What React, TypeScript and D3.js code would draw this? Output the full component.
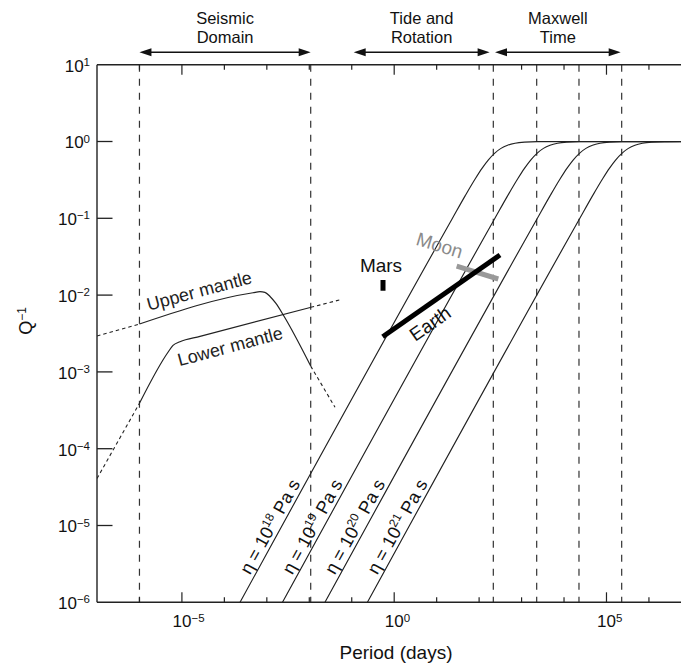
import React from 'react';
import * as d3 from 'd3';

const W = 681;
const H = 670;

// ---- axes ----
const xDomain = [1e-7, 1e7];
const yDomain = [1e-6, 1e1];
const xTickExponents = [-6, -5, -4, -3, -2, -1, 0, 1, 2, 3, 4, 5, 6];
const xLabelExponents = [-5, 0, 5];
const yTickExponents = [1, 0, -1, -2, -3, -4, -5, -6];

// ---- dashed boundaries (period, days) ----
const boundaryPeriods = [1e-6, 0.0108, 216, 2270, 22500, 228000];

// ---- domain arrows ----
const domainLine1 = ['Seismic', 'Tide and', 'Maxwell'];
const domainLine2 = ['Domain', 'Rotation', 'Time'];
const domainStart = [1e-6, 0.111, 237];
const domainEnd = [0.0108, 177, 216000];

// ---- Maxwell curves ----
const viscosityExponents = ['18', '19', '20', '21'];
const maxwellTimes = [234, 2340, 23400, 234000];
const maxwellRatio = [1e-6, 0.1, 0.2, 0.35, 0.5, 0.7, 1, 1.4, 2, 3, 5, 10, 1e5];
const maxwellQ = [1e-6, 0.0995, 0.196, 0.33, 0.447, 0.573, 0.707, 0.814, 0.894, 0.949, 0.981, 0.995, 1];
const etaLabelPeriods = [1.19e-3, 1.19e-2, 0.119, 1.19];
const etaLabelQ = 9.64e-6;

// ---- mantle attenuation ----
const upperSolidP = [1e-6, 4.73e-4, 6.89e-4, 9.0e-4, 1.19e-3, 1.64e-3, 2.44e-3, 0.0108];
const upperSolidQ = [4.2e-3, 0.01074, 0.01107, 0.01087, 9.6e-3, 7.78e-3, 5.5e-3, 1.19e-3];
const upperDashLeftP = [1e-7, 1e-6];
const upperDashLeftQ = [2.93e-3, 4.2e-3];
const upperDashRightP = [0.0108, 0.0404];
const upperDashRightQ = [1.19e-3, 3.46e-4];

const lowerSolidP = [1e-6, 4.79e-6, 6.17e-6, 9.0e-6, 2.67e-5, 0.0108];
const lowerSolidQ = [3.9e-4, 1.83e-3, 2.21e-3, 2.47e-3, 2.9e-3, 6.93e-3];
const lowerDashLeftP = [1e-7, 1e-6];
const lowerDashLeftQ = [4.09e-5, 3.9e-4];
const lowerDashRightP = [0.0108, 0.0509];
const lowerDashRightQ = [6.93e-3, 8.63e-3];

// ---- planetary observations ----
const earthP = [0.536, 310];
const earthQ = [2.87e-3, 0.0333];
const moonP = [29.6, 283];
const moonQ = [0.0239, 0.0162];
const marsP = [0.545, 0.545];
const marsQ = [0.01574, 0.0114];

// ---- text labels ----
const labelTexts = ['Mars', 'Moon', 'Earth', 'Upper mantle', 'Lower mantle'];
const labelPeriods = [0.489, 11.8, 6.97, 2.55e-5, 1.36e-4];
const labelQs = [0.0243, 0.0449, 4.29e-3, 0.01145, 2.17e-3];
const labelAngles = [0, 17, -35, -15, -15];
const labelColors = ['#111', '#8a8a8a', '#111', '#222', '#222'];
const labelSizes = [19, 19, 19, 18, 18];

const FONT = "'Liberation Sans', Arial, Helvetica, sans-serif";

export default function App() {
  const x = d3.scaleLog().domain(xDomain).range([97, 691.4]);
  const y = d3.scaleLog().domain(yDomain).range([602.3, 64.7]);
  const xL = x.range()[0];
  const yB = y.range()[0];
  const yT = y.range()[1];

  const line = d3
    .line<[number, number]>()
    .x((d) => x(d[0]))
    .y((d) => y(d[1]))
    .curve(d3.curveMonotoneX);
  const straight = d3
    .line<[number, number]>()
    .x((d) => x(d[0]))
    .y((d) => y(d[1]));

  const zip = (a: number[], b: number[]) => a.map((v, i) => [v, b[i]] as [number, number]);

  const arrowY = 52.3;
  const head = 12;
  const hw = 4;

  const dxDec = x(10) - x(1);
  const dyDec = y(1) - y(10);
  const etaAngle = (-Math.atan2(dyDec, dxDec) * 180) / Math.PI;

  const axisColor = '#222';

  return (
    <svg
      width={W}
      height={H}
      style={{ position: 'absolute', left: 0, top: 0, background: '#fff' }}
      fontFamily={FONT}
    >
      <defs>
        <clipPath id="plot">
          <rect x={xL} y={yT} width={W - xL} height={yB - yT} />
        </clipPath>
      </defs>
      <rect x={0} y={0} width={W} height={H} fill="#fff" />

      {boundaryPeriods.map((p, i) => (
        <line
          key={'b' + i}
          x1={x(p)}
          x2={x(p)}
          y1={yT}
          y2={yB}
          stroke="#333"
          strokeWidth={1.2}
          strokeDasharray="7,7"
        />
      ))}

      <g clipPath="url(#plot)">
        {maxwellTimes.map((tau, i) => (
          <path
            key={'m' + i}
            d={line(maxwellRatio.map((r, j) => [tau * r, maxwellQ[j]] as [number, number])) || ''}
            fill="none"
            stroke="#222"
            strokeWidth={1.15}
          />
        ))}

        <path d={line(zip(upperSolidP, upperSolidQ)) || ''} fill="none" stroke="#222" strokeWidth={1.2} />
        <path d={straight(zip(upperDashLeftP, upperDashLeftQ)) || ''} fill="none" stroke="#222" strokeWidth={1.1} strokeDasharray="3.5,3" />
        <path d={straight(zip(upperDashRightP, upperDashRightQ)) || ''} fill="none" stroke="#222" strokeWidth={1.1} strokeDasharray="3.5,3" />
        <path d={line(zip(lowerSolidP, lowerSolidQ)) || ''} fill="none" stroke="#222" strokeWidth={1.2} />
        <path d={straight(zip(lowerDashLeftP, lowerDashLeftQ)) || ''} fill="none" stroke="#222" strokeWidth={1.1} strokeDasharray="3.5,3" />
        <path d={straight(zip(lowerDashRightP, lowerDashRightQ)) || ''} fill="none" stroke="#222" strokeWidth={1.1} strokeDasharray="3.5,3" />

        <path d={straight(zip(moonP, moonQ)) || ''} fill="none" stroke="#999" strokeWidth={5} />
        <path d={straight(zip(earthP, earthQ)) || ''} fill="none" stroke="#000" strokeWidth={5} />
        <path d={straight(zip(marsP, marsQ)) || ''} fill="none" stroke="#000" strokeWidth={5} />
      </g>

      <line x1={xL} x2={W} y1={yB} y2={yB} stroke={axisColor} strokeWidth={1.4} />
      <line x1={xL} x2={W} y1={yT} y2={yT} stroke={axisColor} strokeWidth={1.4} />
      <line x1={xL} x2={xL} y1={yT} y2={yB} stroke={axisColor} strokeWidth={1.4} />

      {xTickExponents.map((e) => {
        const major = xLabelExponents.includes(e);
        const len = major ? 10 : 5;
        const px = x(Math.pow(10, e));
        return (
          <g key={'xt' + e}>
            <line x1={px} x2={px} y1={yB} y2={yB - len} stroke={axisColor} strokeWidth={1.2} />
            <line x1={px} x2={px} y1={yT} y2={yT + len} stroke={axisColor} strokeWidth={1.2} />
          </g>
        );
      })}
      {xLabelExponents.map((e) => {
        const px = x(Math.pow(10, e));
        return (
          <g key={'xl' + e} fill="#111">
            <text x={px} y={627.3} fontSize={17} textAnchor="middle">
              10
            </text>
            <text x={px + 9.6} y={621.5} fontSize={11.5} textAnchor="start">
              {e < 0 ? '\u2212' + Math.abs(e) : String(e)}
            </text>
          </g>
        );
      })}

      {yTickExponents.map((e) => {
        const py = y(Math.pow(10, e));
        return (
          <g key={'yt' + e}>
            {e !== 1 && e !== -6 && (
              <line x1={xL} x2={xL + 15.5} y1={py} y2={py} stroke={axisColor} strokeWidth={1.3} />
            )}
            <text x={90} y={py + 6.8} fontSize={17} textAnchor="end" fill="#111">
              10
              <tspan dy={-5.8} fontSize={11.5}>
                {e < 0 ? '\u2212' + Math.abs(e) : String(e)}
              </tspan>
            </text>
          </g>
        );
      })}

      <text x={396} y={659} fontSize={19} textAnchor="middle" fill="#111">
        Period (days)
      </text>
      <text transform="translate(32,321) rotate(-90)" fontSize={18} textAnchor="middle" fill="#111">
        Q
        <tspan dy={-6} fontSize={12}>
          {'\u22121'}
        </tspan>
      </text>

      {domainStart.map((s, i) => {
        const x1 = x(s);
        const x2 = x(domainEnd[i]);
        const cx = (x1 + x2) / 2;
        return (
          <g key={'d' + i}>
            <line x1={x1 + head - 1} x2={x2 - head + 1} y1={arrowY} y2={arrowY} stroke="#111" strokeWidth={1.4} />
            <path d={`M${x1},${arrowY} L${x1 + head},${arrowY - hw} L${x1 + head},${arrowY + hw} Z`} fill="#111" />
            <path d={`M${x2},${arrowY} L${x2 - head},${arrowY - hw} L${x2 - head},${arrowY + hw} Z`} fill="#111" />
            <text x={cx} y={24} fontSize={16.5} textAnchor="middle" fill="#111">
              {domainLine1[i]}
            </text>
            <text x={cx} y={42.5} fontSize={16.5} textAnchor="middle" fill="#111">
              {domainLine2[i]}
            </text>
          </g>
        );
      })}

      {viscosityExponents.map((ex, i) => (
        <text
          key={'eta' + i}
          transform={`translate(${x(etaLabelPeriods[i])},${y(etaLabelQ)}) rotate(${etaAngle})`}
          y={6}
          fontSize={18}
          textAnchor="middle"
          fill="#111"
        >
          {'\u03B7 = 10'}
          <tspan dy={-7} fontSize={12}>
            {ex}
          </tspan>
          <tspan dy={7}>{' Pa s'}</tspan>
        </text>
      ))}

      {labelTexts.map((t, i) => (
        <text
          key={'lab' + i}
          transform={`translate(${x(labelPeriods[i])},${y(labelQs[i])}) rotate(${labelAngles[i]})`}
          y={labelSizes[i] * 0.36}
          fontSize={labelSizes[i]}
          textAnchor="middle"
          fill={labelColors[i]}
        >
          {t}
        </text>
      ))}
    </svg>
  );
}
